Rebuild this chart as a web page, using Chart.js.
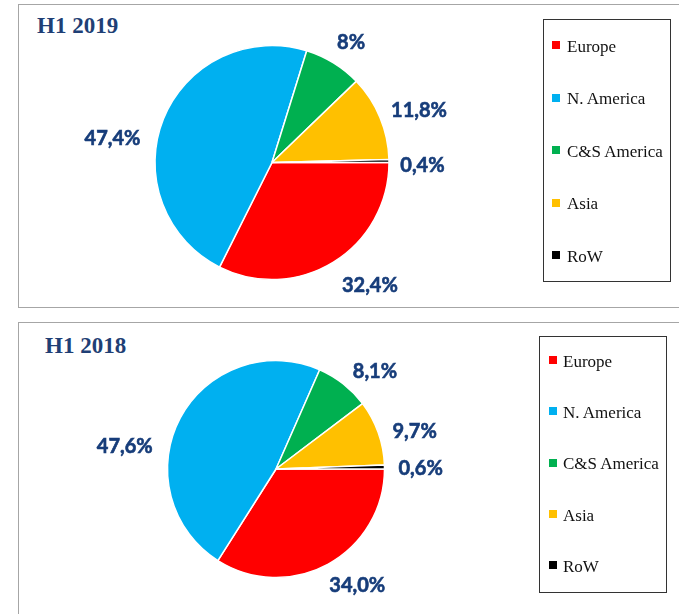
<!DOCTYPE html>
<html>
<head>
<meta charset="utf-8">
<script src="https://cdn.jsdelivr.net/npm/chart.js@4"></script>
<style>
  body { margin: 0; width: 679px; height: 614px; background: #fff; position: relative; overflow: hidden; }
  .panel { position: absolute; left: 18px; width: 680px; border: 1.5px solid #a6a6a6; border-right: none; box-sizing: border-box; }
  .titulo { position: absolute; font: bold 23px "Liberation Serif", serif; color: #1f3f75; line-height: 1; white-space: nowrap; }
  .leyenda { position: absolute; border: 1.5px solid #333; box-sizing: border-box; background: #fff; }
  .item { position: absolute; font: 17px "Liberation Serif", serif; color: #111; line-height: 1; white-space: nowrap; }
  .cuadro { position: absolute; width: 8px; height: 8px; }
  canvas { position: absolute; left: 0; }
</style>
</head>
<body>
<div class="panel" style="top:4px; height:304px;"></div>
<div class="panel" style="top:322px; height:300px;"></div>
<div class="titulo" style="left:37px; top:14px;">H1 2019</div>
<div class="titulo" style="left:45px; top:334px;">H1 2018</div>
<div class="leyenda" id="ley2019" style="left:543px; top:19px; width:128px; height:263px;"></div>
<div class="leyenda" id="ley2018" style="left:539px; top:336px; width:128px; height:257px;"></div>
<canvas id="pie2019" width="679" height="312" style="top:0;"></canvas>
<canvas id="pie2018" width="679" height="300" style="top:314px;"></canvas>
<script>
// Datos
const regiones = ['Europe', 'N. America', 'C&S America', 'Asia', 'RoW'];
const colores = ['#ff0000', '#00b0f0', '#00b050', '#ffc000', '#000000'];
const valores2019 = [32.4, 47.4, 8, 11.8, 0.4];
const valores2018 = [34.0, 47.6, 8.1, 9.7, 0.6];

// posicion de las etiquetas: angulo (grados desde arriba) y distancia (x radio)
const etiq2019 = [[141.5, 1.344], [278.7, 1.379], [33.5, 1.225], [70.7, 1.331], [91, 1.286]];
const etiq2018 = [[145, 1.306], [278.5, 1.409], [45.3, 1.283], [75, 1.323], [90, 1.333]];

const colorTexto = '#173d7a';

// dibuja los porcentajes alrededor del pie
const porcentajes = {
    id: 'porcentajes',
    afterDatasetsDraw(chart, args, opts) {
        const ctx = chart.ctx;
        const arcos = chart.getDatasetMeta(0).data;
        const vals = chart.data.datasets[0].data;
        ctx.save();
        ctx.font = 'bold 20px Lato, "Open Sans", sans-serif';
        ctx.fillStyle = colorTexto;
        ctx.strokeStyle = colorTexto;
        ctx.lineWidth = 0.6;
        ctx.textAlign = 'center';
        ctx.textBaseline = 'middle';
        arcos.forEach((arco, i) => {
            const ang = opts.pos[i][0] * Math.PI / 180;
            const d = opts.pos[i][1] * arco.outerRadius;
            const x = arco.x + d * Math.sin(ang);
            const y = arco.y - d * Math.cos(ang);
            let txt = opts.fijo ? vals[i].toFixed(1) : String(vals[i]);
            txt = txt.replace('.', ',') + '%';
            ctx.fillText(txt, x, y);
            ctx.strokeText(txt, x, y);
        });
        ctx.restore();
    }
};

function crearPie(id, valores, pos, fijo, padding) {
    new Chart(document.getElementById(id), {
        type: 'pie',
        data: {
            labels: regiones,
            datasets: [{
                data: valores,
                backgroundColor: colores,
                borderColor: '#ffffff',
                borderWidth: 1.5
            }]
        },
        options: {
            responsive: false,
            animation: false,
            rotation: 90,
            layout: { padding: padding },
            plugins: {
                legend: { display: false },
                tooltip: { enabled: false },
                porcentajes: { pos: pos, fijo: fijo }
            }
        },
        plugins: [porcentajes]
    });
}

//leyenda en html
function crearLeyenda(top0, paso, xCuadro, xTexto) {
    regiones.forEach((nombre, i) => {
        const base = top0 + i * paso;
        const c = document.createElement('div');
        c.className = 'cuadro';
        c.style.background = colores[i];
        c.style.left = xCuadro + 'px';
        c.style.top = (base - 11) + 'px';
        document.body.appendChild(c);
        const t = document.createElement('div');
        t.className = 'item';
        t.textContent = nombre;
        t.style.left = xTexto + 'px';
        t.style.top = (base - 14.2) + 'px';
        document.body.appendChild(t);
    });
}

crearPie('pie2019', valores2019, etiq2019, false, { left: 154.25, top: 44.75, right: 289.25, bottom: 31.75 });
crearPie('pie2018', valores2018, etiq2018, true, { left: 166.75, top: 45.75, right: 293.75, bottom: 35.75 });

crearLeyenda(52, 52.5, 552, 567);
crearLeyenda(367, 51.25, 549, 563);
</script>
</body>
</html>
